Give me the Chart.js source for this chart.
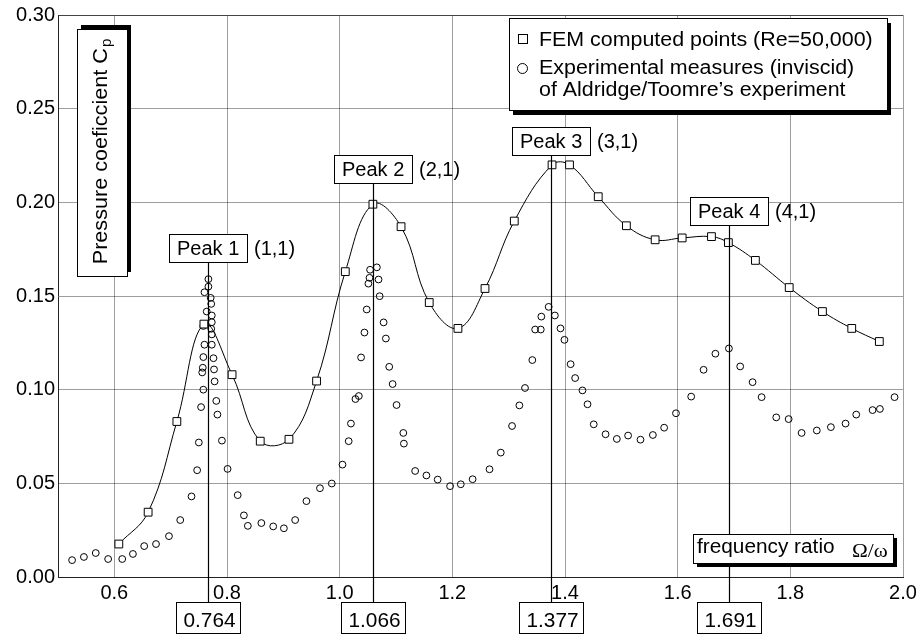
<!DOCTYPE html>
<html>
<head>
<meta charset="utf-8">
<script src="https://cdn.jsdelivr.net/npm/chart.js@4.4.1/dist/chart.umd.min.js"></script>
<style>
  html, body { margin: 0; padding: 0; background: #fff; }
  #wrap { width: 924px; height: 641px; }
</style>
</head>
<body>
<div id="wrap"><canvas id="cpChart" width="924" height="641"></canvas></div>
<script>
// FEM computed points (squares + smooth curve)
const femX = [0.608, 0.660, 0.711, 0.759, 0.809, 0.859, 0.910, 0.959, 1.010, 1.059,
              1.109, 1.159, 1.210, 1.258, 1.310, 1.377, 1.408, 1.459, 1.509, 1.560,
              1.608, 1.660, 1.690, 1.738, 1.798, 1.857, 1.909, 1.958];
const femY = [0.0176, 0.0346, 0.083, 0.135, 0.108, 0.0725, 0.0735, 0.1046, 0.163, 0.199,
              0.187, 0.1465, 0.1327, 0.154, 0.190, 0.220, 0.220, 0.203, 0.1875, 0.180,
              0.181, 0.1817, 0.1785, 0.169, 0.1545, 0.1417, 0.1327, 0.1257];

// Aldridge/Toomre experimental measures (circles)
const expX = [0.525, 0.546, 0.567, 0.589, 0.614, 0.633, 0.653, 0.674, 0.697, 0.717,
              0.737, 0.747, 0.750, 0.754, 0.756, 0.757, 0.758, 0.758, 0.758, 0.760,
              0.760, 0.764, 0.767, 0.767, 0.771, 0.772, 0.772, 0.773, 0.773, 0.773,
              0.773, 0.776, 0.777, 0.778, 0.781, 0.783, 0.791, 0.801, 0.819, 0.830,
              0.837, 0.861, 0.882, 0.901, 0.921, 0.941, 0.965, 0.986, 1.005, 1.016,
              1.020, 1.028, 1.034, 1.038, 1.044, 1.048, 1.051, 1.053, 1.054, 1.066,
              1.069, 1.071, 1.078, 1.082, 1.088, 1.094, 1.101, 1.113, 1.114, 1.134,
              1.154, 1.174, 1.196, 1.215, 1.236, 1.266, 1.286, 1.306, 1.319, 1.329,
              1.342, 1.347, 1.357, 1.358, 1.371, 1.382, 1.392, 1.399, 1.410, 1.418,
              1.431, 1.440, 1.451, 1.472, 1.492, 1.512, 1.534, 1.556, 1.576, 1.597,
              1.624, 1.646, 1.667, 1.691, 1.711, 1.733, 1.749, 1.775, 1.797, 1.820,
              1.847, 1.872, 1.898, 1.917, 1.946, 1.959, 1.985];
const expY = [0.009, 0.0107, 0.0128, 0.0096, 0.0096, 0.0123, 0.0165, 0.0176, 0.0218, 0.0304,
              0.043, 0.057, 0.0718, 0.0907, 0.1092, 0.1117, 0.1174, 0.100, 0.134, 0.124,
              0.152, 0.1417, 0.159, 0.155, 0.149, 0.1458, 0.1325, 0.1396, 0.136, 0.1295,
              0.124, 0.1168, 0.1108, 0.1044, 0.094, 0.0867, 0.0728, 0.0577, 0.0437, 0.0329,
              0.0273, 0.0288, 0.027, 0.026, 0.0304, 0.0405, 0.0474, 0.0499, 0.060, 0.0725,
              0.0819, 0.095, 0.0966, 0.1172, 0.1305, 0.1428, 0.1566, 0.1597, 0.164, 0.1653,
              0.1588, 0.1499, 0.1359, 0.1273, 0.1122, 0.103, 0.0918, 0.0769, 0.0712, 0.0566,
              0.0542, 0.052, 0.0485, 0.0495, 0.0522, 0.0575, 0.0664, 0.0806, 0.0916, 0.1009,
              0.1158, 0.1321, 0.1321, 0.139, 0.1442, 0.1396, 0.1327, 0.1266, 0.1136, 0.1062,
              0.0996, 0.0922, 0.0815, 0.0762, 0.0737, 0.0755, 0.0733, 0.0758, 0.0797, 0.0874,
              0.0963, 0.1106, 0.1192, 0.122, 0.1124, 0.104, 0.096, 0.0852, 0.0843, 0.0769,
              0.0782, 0.080, 0.0819, 0.0867, 0.0891, 0.0897, 0.096];

const xTicks = [0.6, 0.8, 1.0, 1.2, 1.4, 1.6, 1.8, 2.0];
const yTicks = [0, 0.05, 0.10, 0.15, 0.20, 0.25, 0.30];

const peakNames  = ['Peak 1', 'Peak 2', 'Peak 3', 'Peak 4'];
const peakModes  = ['(1,1)', '(2,1)', '(3,1)', '(4,1)'];
const peakValues = ['0.764', '1.066', '1.377', '1.691'];
const peakLineX  = [0.767, 1.060, 1.376, 1.691];
const peakLabelY = [0.168, 0.2104, 0.2254, 0.188];   // Cp level where the label box sits

const FONT = "'Liberation Sans', Arial, Helvetica, sans-serif";
const SERIF = "'Liberation Serif', 'Times New Roman', serif";

function drawText(c, s, x, y, size, sx, align, family) {
    c.save();
    c.font = size + 'px ' + (family || FONT);
    c.fillStyle = '#000';
    c.textBaseline = 'alphabetic';
    c.translate(x, y);
    c.scale(sx, 1);
    c.textAlign = align || 'left';
    c.fillText(s, 0, 0);
    c.restore();
}

function drawBox(c, x, y, w, h, sdx, sdy) {
    if (sdx || sdy) {
        c.fillStyle = '#000';
        c.fillRect(x + sdx, y + sdy, w, h);
    }
    c.fillStyle = '#fff';
    c.fillRect(x, y, w, h);
    c.strokeStyle = '#000';
    c.lineWidth = 1;
    c.strokeRect(x + 0.5, y + 0.5, w, h);
}

const annotations = {
    id: 'annotations',
    afterDraw(chart) {
        const c = chart.ctx;
        const xs = chart.scales.x, ys = chart.scales.y;
        const area = chart.chartArea;

        // peak markers
        peakLineX.forEach((v, i) => {
            const px = Math.round(xs.getPixelForValue(v)) + 0.5;
            const top = Math.round(ys.getPixelForValue(peakLabelY[i]));
            const lowTop = area.bottom + 25;
            c.save();
            c.strokeStyle = '#000';
            c.lineWidth = 1.2;
            c.beginPath();
            c.moveTo(px, top);
            c.lineTo(px, lowTop);
            c.stroke();
            c.restore();

            drawBox(c, px - 39.5, top - 28, 78, 28);
            drawText(c, peakNames[i], px - 39.5 + 8, top - 7, 20, 1.0);
            drawText(c, peakModes[i], px + 39.5 + 6, top - 7, 20, 1.0);

            drawBox(c, px - 32.5, lowTop, 64, 31);
            drawText(c, peakValues[i], px + 1, lowTop + 25, 20, 1.04, 'center');
        });

        // legend
        const lx = area.left + 451, ly = area.top + 3;
        drawBox(c, lx, ly, 378, 92, 4, 5);
        c.save();
        c.strokeStyle = '#000';
        c.lineWidth = 1;
        c.fillStyle = '#fff';
        c.fillRect(lx + 9, ly + 16, 9, 9);
        c.strokeRect(lx + 9.5, ly + 16.5, 9, 9);
        c.beginPath();
        c.arc(lx + 13.5, ly + 50.5, 5, 0, Math.PI * 2);
        c.stroke();
        c.restore();
        drawText(c, 'FEM computed points (Re=50,000)', lx + 30, ly + 28, 20, 1.07);
        drawText(c, 'Experimental measures (inviscid)', lx + 30, ly + 56, 20, 1.07);
        drawText(c, 'of Aldridge/Toomre\u2019s experiment', lx + 30, ly + 78, 20, 1.07);

        // y axis title (rotated)
        drawBox(c, 77, 29, 50, 247, 4, -4);
        c.save();
        c.translate(107, 152);
        c.rotate(-Math.PI / 2);
        c.scale(1.08, 1);
        c.fillStyle = '#000';
        c.font = '20px ' + FONT;
        const main = 'Pressure coeficcient C';
        const w1 = c.measureText(main).width;
        c.font = '14px ' + FONT;
        const w2 = c.measureText('p').width;
        const start = -(w1 + w2) / 2;
        c.font = '20px ' + FONT;
        c.fillText(main, start, 0);
        c.font = '14px ' + FONT;
        c.fillText('p', start + w1 + 1, 4);
        c.restore();

        // x axis title
        drawBox(c, 693, 534, 200, 29, 4, 4);
        drawText(c, 'frequency ratio', 697, 553, 20, 1.04);
        drawText(c, '\u03A9/\u03C9', 852, 557, 19, 1.12, 'left', SERIF);
    }
};

const gridColor = 'rgba(0,0,0,0.38)';

new Chart(document.getElementById('cpChart').getContext('2d'), {
    type: 'line',
    data: {
        datasets: [{
            label: 'FEM computed points (Re=50,000)',
            data: femX.map((x, i) => ({ x: x, y: femY[i] })),
            showLine: true,
            fill: false,
            borderColor: '#000',
            borderWidth: 1,
            tension: 0.4,
            pointStyle: 'rect',
            pointRadius: 5.5,
            pointBackgroundColor: '#fff',
            pointBorderColor: '#000',
            pointBorderWidth: 1,
        }, {
            label: 'Experimental measures (inviscid) of Aldridge/Toomre\u2019s experiment',
            data: expX.map((x, i) => ({ x: x, y: expY[i] })),
            showLine: false,
            pointStyle: 'circle',
            pointRadius: 3.4,
            pointBackgroundColor: 'rgba(0,0,0,0)',
            pointBorderColor: '#000',
            pointBorderWidth: 1,
        }]
    },
    options: {
        responsive: false,
        animation: false,
        layout: { padding: { top: 14, right: 21, left: 0, bottom: 0 } },
        plugins: {
            legend: { display: false },
            tooltip: { enabled: false },
        },
        scales: {
            x: {
                type: 'linear',
                min: 0.5,
                max: 2.0,
                afterBuildTicks: (s) => { s.ticks = xTicks.map(v => ({ value: v })); },
                afterFit: (s) => { s.height = 64; },
                grid: { color: gridColor, lineWidth: 1, drawTicks: false },
                border: { color: '#222', width: 1 },
                ticks: {
                    color: '#000',
                    font: { family: FONT, size: 20 },
                    padding: 4,
                    maxRotation: 0,
                    autoSkip: false,
                    callback: (v) => Number(v).toFixed(1),
                }
            },
            y: {
                type: 'linear',
                min: 0,
                max: 0.30,
                afterBuildTicks: (s) => { s.ticks = yTicks.map(v => ({ value: v })); },
                afterFit: (s) => { s.width = 58; },
                grid: {
                    color: (ctx) => (ctx.tick && Math.abs(ctx.tick.value - 0.3) < 1e-9) ? '#444' : gridColor,
                    lineWidth: 1,
                    drawTicks: false,
                },
                border: { color: '#222', width: 1 },
                ticks: {
                    color: '#000',
                    font: { family: FONT, size: 20 },
                    padding: 3,
                    autoSkip: false,
                    callback: (v) => Number(v).toFixed(2),
                }
            }
        }
    },
    plugins: [annotations]
});
</script>
</body>
</html>
